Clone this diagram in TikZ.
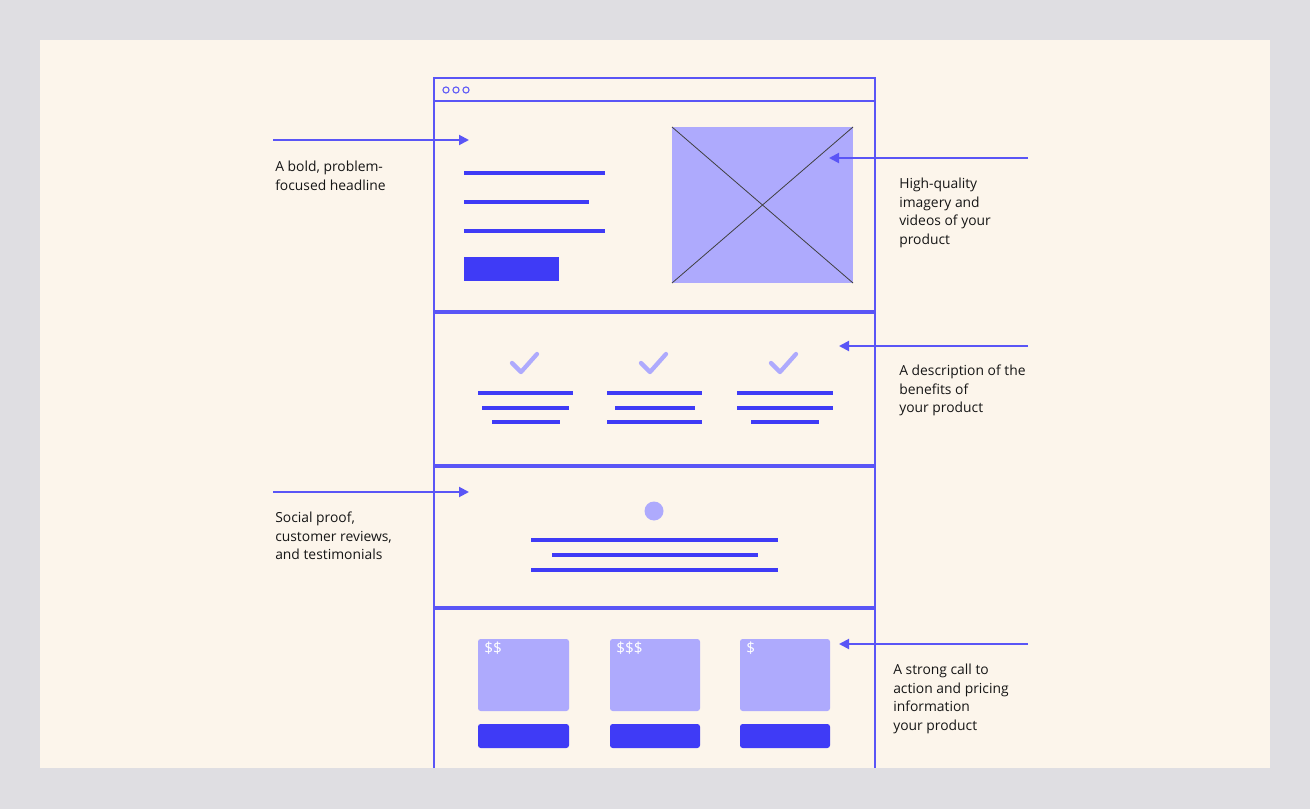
\documentclass[tikz,border=0pt]{standalone}
\usepackage{fontspec}
\setmainfont{Open Sans}
\usetikzlibrary{arrows.meta}
\definecolor{bggray}{HTML}{DFDEE2}
\definecolor{cream}{HTML}{FCF5EB}
\definecolor{frameblue}{HTML}{5A55F6}
\definecolor{barblue}{HTML}{3F3BF6}
\definecolor{lilac}{HTML}{AEAAFD}
\definecolor{txt}{HTML}{161616}
\tikzset{
  frame/.style={draw=frameblue, line width=1.5pt},
  sep/.style={draw=frameblue, line width=2.3pt},
  bar/.style={draw=barblue, line width=3.4pt},
  pointer/.style={draw=frameblue, line width=1.5pt, -{Triangle[length=7.5pt,width=7.5pt]}},
  note/.style={anchor=north west, inner sep=0pt, align=left, text=txt,
    font=\fontsize{10.4pt}{13.9pt}\selectfont},
  tick/.style={draw=lilac, line width=3.2pt, line cap=round, line join=round},
  card/.style={fill=lilac, rounded corners=2pt},
  cta/.style={fill=barblue, rounded corners=2pt},
  price/.style={anchor=north west, inner sep=0pt, text=white, font=\fontsize{11.5pt}{12pt}\selectfont},
}
\begin{document}
\begin{tikzpicture}[x=0.75pt,y=-0.75pt]
\useasboundingbox (0,0) rectangle (1310,809);
\fill[bggray] (0,0) rectangle (1310,809);
\fill[cream] (40,40) rectangle (1270,768);

% browser frame
\coordinate (ftl) at (434,78);
\coordinate (ftr) at (875,78);
\coordinate (fbl) at (434,768);
\coordinate (fbr) at (875,768);
\draw[frame] (fbl) -- (ftl) -- (ftr) -- (fbr);
\draw[frame] (434,101) -- (875,101);
\foreach \cx [count=\i] in {446,456,466}
  \node[circle, draw=frameblue, line width=0.8pt, minimum size=4.6pt, inner sep=0pt] (dot\i) at (\cx,90) {};
\draw[sep] (434,312) -- (875,312);
\draw[sep] (434,466) -- (875,466);
\draw[sep] (434,608) -- (875,608);

% hero
\draw[bar] (464,173) -- (605,173);
\draw[bar] (464,202) -- (589,202);
\draw[bar] (464,231) -- (605,231);
\fill[barblue] (464,257) rectangle (559,281);
\fill[lilac] (672,127) rectangle (853,283);
\draw[draw=black!75, line width=0.6pt] (672,127) -- (853,283) (672,283) -- (853,127);

% benefits
\foreach \dx in {0,129,259} {
  \draw[tick] (512+\dx,363) -- (521+\dx,372) -- (537+\dx,354);
}
\draw[bar] (478,393) -- (573,393);
\draw[bar] (482,408) -- (569,408);
\draw[bar] (492,422) -- (560,422);
\draw[bar] (607,393) -- (702,393);
\draw[bar] (615,408) -- (695,408);
\draw[bar] (607,422) -- (702,422);
\draw[bar] (737,393) -- (833,393);
\draw[bar] (737,408) -- (833,408);
\draw[bar] (751,422) -- (819,422);

% social proof
\fill[lilac] (654,511) circle (9.5);
\draw[bar] (531,540) -- (778,540);
\draw[bar] (552,555) -- (758,555);
\draw[bar] (531,570) -- (778,570);

% pricing
\fill[card] (478,639) rectangle (569,711);
\fill[card] (610,639) rectangle (700,711);
\fill[card] (740,639) rectangle (830,711);
\node[price] (p1) at (484,642) {\$\$};
\node[price] (p2) at (616,642) {\$\$\$};
\node[price] (p3) at (746,642) {\$};
\fill[cta] (478,724) rectangle (569,748);
\fill[cta] (610,724) rectangle (700,748);
\fill[cta] (740,724) rectangle (830,748);

% pointers
\coordinate (a1s) at (273,140); \coordinate (a1e) at (469,140);
\coordinate (a2s) at (1028,158); \coordinate (a2e) at (829,158);
\coordinate (a3s) at (1028,346); \coordinate (a3e) at (839,346);
\coordinate (a4s) at (273,492); \coordinate (a4e) at (469,492);
\coordinate (a5s) at (1028,644); \coordinate (a5e) at (839,644);
\draw[pointer] (a1s) -- (a1e);
\draw[pointer] (a2s) -- (a2e);
\draw[pointer] (a3s) -- (a3e);
\draw[pointer] (a4s) -- (a4e);
\draw[pointer] (a5s) -- (a5e);

% notes
\node[note] (n1) at (275,161) {A bold, problem-\\focused headline};
\node[note] (n2) at (899,178) {High-quality\\imagery and\\videos of your\\product};
\node[note] (n3) at (899,365) {A description of the\\benefits of\\your product};
\node[note] (n4) at (275,512) {Social proof,\\customer reviews,\\and testimonials};
\node[note] (n5) at (893,664) {A strong call to\\action and pricing\\information\\your product};
\end{tikzpicture}
\end{document}
